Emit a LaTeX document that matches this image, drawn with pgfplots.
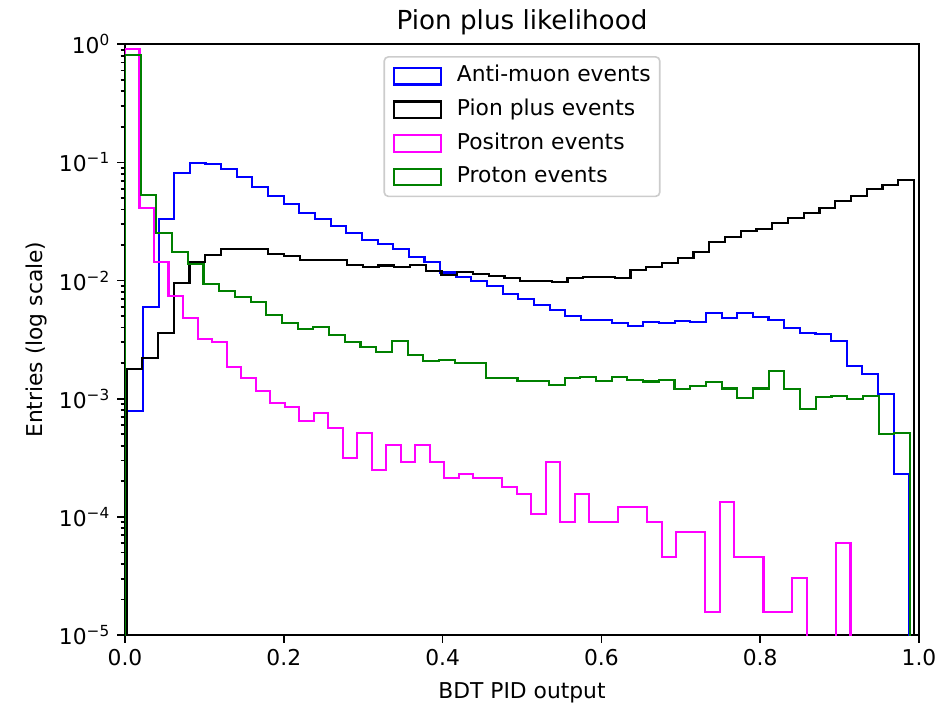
\documentclass[border=0pt]{standalone}
\usepackage{fontspec}
\setmainfont{DejaVu Sans}
\usepackage{pgfplots}
\pgfplotsset{compat=1.18}
\definecolor{mplgreen}{RGB}{0,128,0}
\definecolor{mplblue}{RGB}{0,0,255}
\definecolor{mplmagenta}{RGB}{255,0,255}
\begin{document}
\begin{tikzpicture}
\path[use as bounding box] (-62.5pt,-35pt) rectangle (410pt,317.5pt);
\begin{axis}[
  at={(0pt,0pt)}, anchor=south west,
  scale only axis, width=397pt, height=295.35pt,
  ymode=log, xmin=0, xmax=1, ymin=1e-5, ymax=1,
  axis line style={line width=0.88pt},
  every tick/.style={black, line width=0.88pt},
  tick align=outside, xtick pos=bottom, ytick pos=left,
  major tick length=3.85pt, minor tick length=2.2pt,
  xtick={0,0.2,0.4,0.6,0.8,1},
  xticklabels={0.0,0.2,0.4,0.6,0.8,1.0},
  ytick={1e-5,1e-4,1e-3,1e-2,1e-1,1},
  yticklabels={10\textsuperscript{−5},10\textsuperscript{−4},10\textsuperscript{−3},10\textsuperscript{−2},10\textsuperscript{−1},10\textsuperscript{0}},
  minor ytick={2e-5,3e-5,4e-5,5e-5,6e-5,7e-5,8e-5,9e-5,2e-4,3e-4,4e-4,5e-4,6e-4,7e-4,8e-4,9e-4,2e-3,3e-3,4e-3,5e-3,6e-3,7e-3,8e-3,9e-3,2e-2,3e-2,4e-2,5e-2,6e-2,7e-2,8e-2,9e-2,2e-1,3e-1,4e-1,5e-1,6e-1,7e-1,8e-1,9e-1},
  tick label style={font=\fontsize{10.9}{13}\selectfont},
  title={Pion plus likelihood},
  title style={font=\fontsize{13.1}{15}\selectfont, at={(axis description cs:0.5,1.0051)}, anchor=base},
  xlabel={BDT PID output},
  xlabel style={font=\fontsize{10.9}{13}\selectfont, at={(axis description cs:0.5,-0.10665)}, anchor=base},
  ylabel={Entries (log scale)},
  ylabel style={font=\fontsize{10.9}{13}\selectfont, at={(axis description cs:-0.1045,0.5)}, anchor=base},
  legend image code/.code={\draw[#1, sharp corners] (0pt,-4.15pt) rectangle (23.3pt,4.15pt);},
  legend cell align=left,
  legend style={at={(axis description cs:0.5,0.98)}, anchor=north,
    draw=black!20, line width=0.8pt, rounded corners=2pt, fill=white, fill opacity=0.8, text opacity=1,
    font=\fontsize{10.9}{13}\selectfont, inner xsep=4.5pt, inner ysep=4.2pt, row sep=5.9pt,
    nodes={inner sep=0pt, text height=8.3pt, text depth=2.6pt},
    column sep=7.5pt},
]
\addplot[const plot mark left, mplblue, line width=1.05pt] coordinates {
(0.0029,1e-8) (0.0029,7.87e-4) (0.0226,5.94e-3) (0.0423,0.0330) (0.0620,0.0819) (0.0817,0.0984) (0.1014,0.0965) (0.1211,0.0880) (0.1408,0.0753) (0.1605,0.0623) (0.1802,0.0517) (0.1999,0.0442) (0.2196,0.0376) (0.2393,0.0330) (0.2590,0.0292) (0.2787,0.0251) (0.2984,0.0221) (0.3181,0.0203) (0.3378,0.0185) (0.3575,0.0157) (0.3772,0.0144) (0.3969,0.0117) (0.4166,0.0108) (0.4363,0.00991) (0.4560,0.00899) (0.4757,0.00766) (0.4954,0.00698) (0.5151,0.00621) (0.5347,0.00564) (0.5544,0.00505) (0.5741,0.00464) (0.5938,0.00464) (0.6135,0.00440) (0.6332,0.00413) (0.6529,0.00443) (0.6726,0.00435) (0.6923,0.00457) (0.7120,0.00449) (0.7317,0.00528) (0.7514,0.00480) (0.7711,0.00528) (0.7908,0.00494) (0.8105,0.00464) (0.8302,0.00394) (0.8499,0.00362) (0.8696,0.00353) (0.8893,0.00308) (0.9090,0.00189) (0.9287,0.00161) (0.9484,0.00110) (0.9681,2.31e-4) (0.9878,2.31e-4) (0.9878,1e-8)
};
\addlegendentry{Anti-muon events}
\addplot[const plot mark left, black, line width=1.05pt] coordinates {
(0.0019,1e-8) (0.0019,1.77e-3) (0.0217,2.20e-3) (0.0416,3.62e-3) (0.0614,9.48e-3) (0.0812,0.01436) (0.1011,0.01647) (0.1209,0.0184) (0.1408,0.0184) (0.1606,0.0184) (0.1804,0.01668) (0.2003,0.01615) (0.2201,0.01494) (0.2399,0.01494) (0.2598,0.01494) (0.2796,0.01346) (0.2994,0.01303) (0.3193,0.01342) (0.3391,0.01295) (0.3589,0.01355) (0.3788,0.01213) (0.3986,0.01115) (0.4185,0.01189) (0.4383,0.01137) (0.4581,0.01100) (0.4780,0.01045) (0.4978,0.00991) (0.5176,0.00991) (0.5375,0.00979) (0.5573,0.01045) (0.5771,0.01078) (0.5970,0.01078) (0.6168,0.01045) (0.6367,0.01229) (0.6565,0.01295) (0.6763,0.01417) (0.6962,0.01562) (0.7160,0.01755) (0.7358,0.02134) (0.7557,0.02324) (0.7755,0.02644) (0.7953,0.02733) (0.8152,0.03090) (0.8350,0.03405) (0.8548,0.03755) (0.8747,0.04090) (0.8945,0.04745) (0.9144,0.05200) (0.9342,0.05925) (0.9540,0.06440) (0.9739,0.07103) (0.9937,0.07103) (0.9937,1e-8)
};
\addlegendentry{Pion plus events}
\addplot[const plot mark left, mplmagenta, line width=1.05pt] coordinates {
(0,1e-8) (0,0.907) (0.0183,0.0409) (0.0365,0.01428) (0.0548,7.40e-3) (0.0731,4.80e-3) (0.0914,3.18e-3) (0.1096,3.00e-3) (0.1279,1.87e-3) (0.1462,1.51e-3) (0.1645,1.17e-3) (0.1827,9.15e-4) (0.2010,8.56e-4) (0.2193,6.48e-4) (0.2376,7.53e-4) (0.2558,5.69e-4) (0.2741,3.17e-4) (0.2924,5.16e-4) (0.3107,2.49e-4) (0.3289,4.06e-4) (0.3472,2.90e-4) (0.3655,4.06e-4) (0.3838,2.90e-4) (0.4020,2.12e-4) (0.4203,2.31e-4) (0.4386,2.12e-4) (0.4569,2.12e-4) (0.4751,1.80e-4) (0.4934,1.55e-4) (0.5117,1.06e-4) (0.5299,2.90e-4) (0.5482,9.1e-5) (0.5665,1.55e-4) (0.5848,9.1e-5) (0.6030,9.1e-5) (0.6213,1.21e-4) (0.6396,1.21e-4) (0.6579,9.05e-5) (0.6761,4.60e-5) (0.6944,7.48e-5) (0.7127,7.48e-5) (0.7310,1.56e-5) (0.7492,1.34e-4) (0.7675,4.60e-5) (0.7858,4.60e-5) (0.8041,1.56e-5) (0.8223,1.56e-5) (0.8406,3.02e-5) (0.8589,1e-8) (0.8772,1e-8) (0.8954,6.04e-5) (0.9137,6.04e-5) (0.9137,1e-8)
};
\addlegendentry{Positron events}
\addplot[const plot mark left, mplgreen, line width=1.05pt] coordinates {
(0,1e-8) (0,0.812) (0.0198,0.0530) (0.0395,0.0251) (0.0593,0.01746) (0.0791,0.01380) (0.0989,9.30e-3) (0.1186,8.16e-3) (0.1384,7.22e-3) (0.1582,6.55e-3) (0.1780,5.11e-3) (0.1977,4.35e-3) (0.2175,3.87e-3) (0.2373,4.07e-3) (0.2570,3.46e-3) (0.2768,3.00e-3) (0.2966,2.72e-3) (0.3164,2.48e-3) (0.3361,3.08e-3) (0.3559,2.34e-3) (0.3757,2.09e-3) (0.3955,2.13e-3) (0.4152,2.02e-3) (0.4350,2.02e-3) (0.4548,1.49e-3) (0.4746,1.49e-3) (0.4943,1.42e-3) (0.5141,1.42e-3) (0.5339,1.31e-3) (0.5536,1.51e-3) (0.5734,1.54e-3) (0.5932,1.42e-3) (0.6130,1.54e-3) (0.6327,1.44e-3) (0.6525,1.40e-3) (0.6723,1.44e-3) (0.6921,1.20e-3) (0.7118,1.29e-3) (0.7316,1.38e-3) (0.7514,1.22e-3) (0.7712,1.02e-3) (0.7909,1.22e-3) (0.8107,1.72e-3) (0.8305,1.20e-3) (0.8502,8.18e-4) (0.8700,1.04e-3) (0.8898,1.06e-3) (0.9096,9.89e-4) (0.9293,1.06e-3) (0.9491,5.03e-4) (0.9689,5.16e-4) (0.9887,5.16e-4) (0.9887,1e-8)
};
\addlegendentry{Proton events}
\end{axis}
\end{tikzpicture}
\end{document}
